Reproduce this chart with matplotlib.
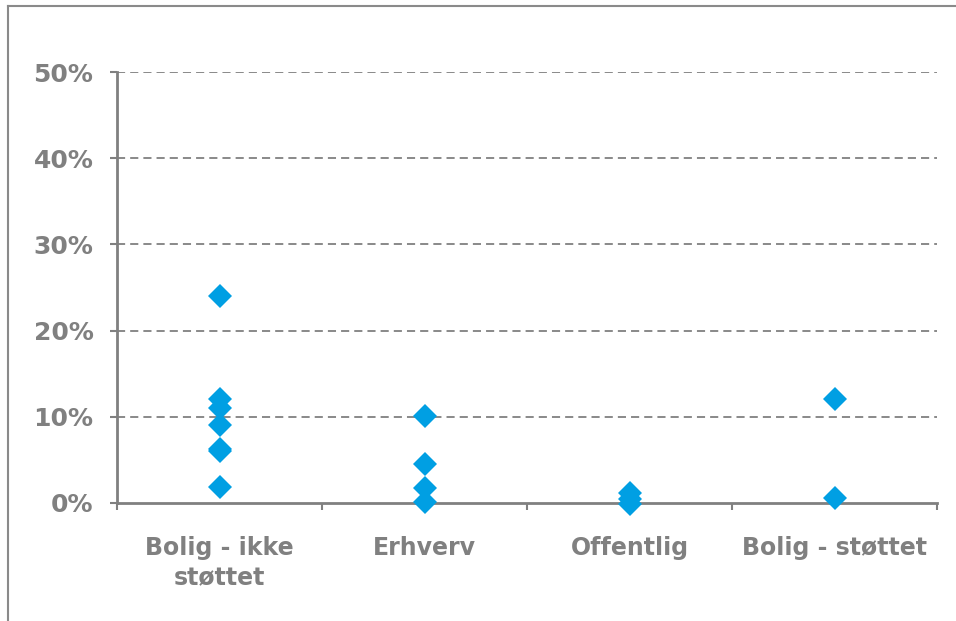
import matplotlib.pyplot as plt
from matplotlib.lines import Line2D
import numpy as np

# andel per kategori (brøk)
categories = ['Bolig - ikke\nstøttet', 'Erhverv', 'Offentlig', 'Bolig - støttet']
bolig_ikke = [0.240, 0.121, 0.110, 0.091, 0.063, 0.060, 0.019]
erhverv = [0.101, 0.045, 0.017, 0.001]
offentlig = [0.012, 0.005, -0.001]
bolig_stottet = [0.121, 0.006]
series = [bolig_ikke, erhverv, offentlig, bolig_stottet]
y_ticks = [0, 0.1, 0.2, 0.3, 0.4, 0.5]

grey = '#808080'
blue = '#009FE3'

fig = plt.figure(figsize=(9.56, 6.21), dpi=100)
ax = fig.add_axes([117/956, 1 - 503/621, (937 - 117)/956, (503 - 72)/621])

for i, vals in enumerate(series):
    ax.plot([i + 0.5] * len(vals), vals, linestyle='none', marker='D',
            markersize=12, color=blue, markeredgewidth=0, zorder=3, clip_on=False)

ax.set_xlim(0, 4)
ax.set_ylim(0, 0.5)
ax.set_yticks(y_ticks)
ax.set_yticklabels([f'{int(round(t*100))}%' for t in y_ticks])
ax.set_xticks(np.arange(5))
ax.set_xticklabels([])
ax.set_xticks(np.arange(4) + 0.5, minor=True)
ax.set_xticklabels(categories, minor=True, linespacing=1.3)

for t in y_ticks[1:]:
    ax.axhline(t, color=grey, linestyle=(0, (4.5, 2.8)), linewidth=1.3, zorder=1)

for s in ['top', 'right']:
    ax.spines[s].set_visible(False)
for s in ['left', 'bottom']:
    ax.spines[s].set_color(grey)
    ax.spines[s].set_linewidth(2)

ax.tick_params(axis='y', which='major', length=5, width=1.5, color=grey,
               labelcolor=grey, labelsize=18, pad=12)
ax.tick_params(axis='x', which='major', length=5, width=1.5, color=grey)
ax.tick_params(axis='x', which='minor', length=0, labelcolor=grey,
               labelsize=17, pad=24)
for lab in ax.get_yticklabels() + ax.get_xticklabels(minor=True):
    lab.set_fontweight('bold')

# ramme rundt figuren
fig.add_artist(Line2D([8/956, 8/956], [0, 1 - 6/621], color='#8a8a8a', linewidth=1.5))
fig.add_artist(Line2D([8/956, 1], [1 - 6/621, 1 - 6/621], color='#8a8a8a', linewidth=1.5))

fig.savefig('out.png', dpi=100)
